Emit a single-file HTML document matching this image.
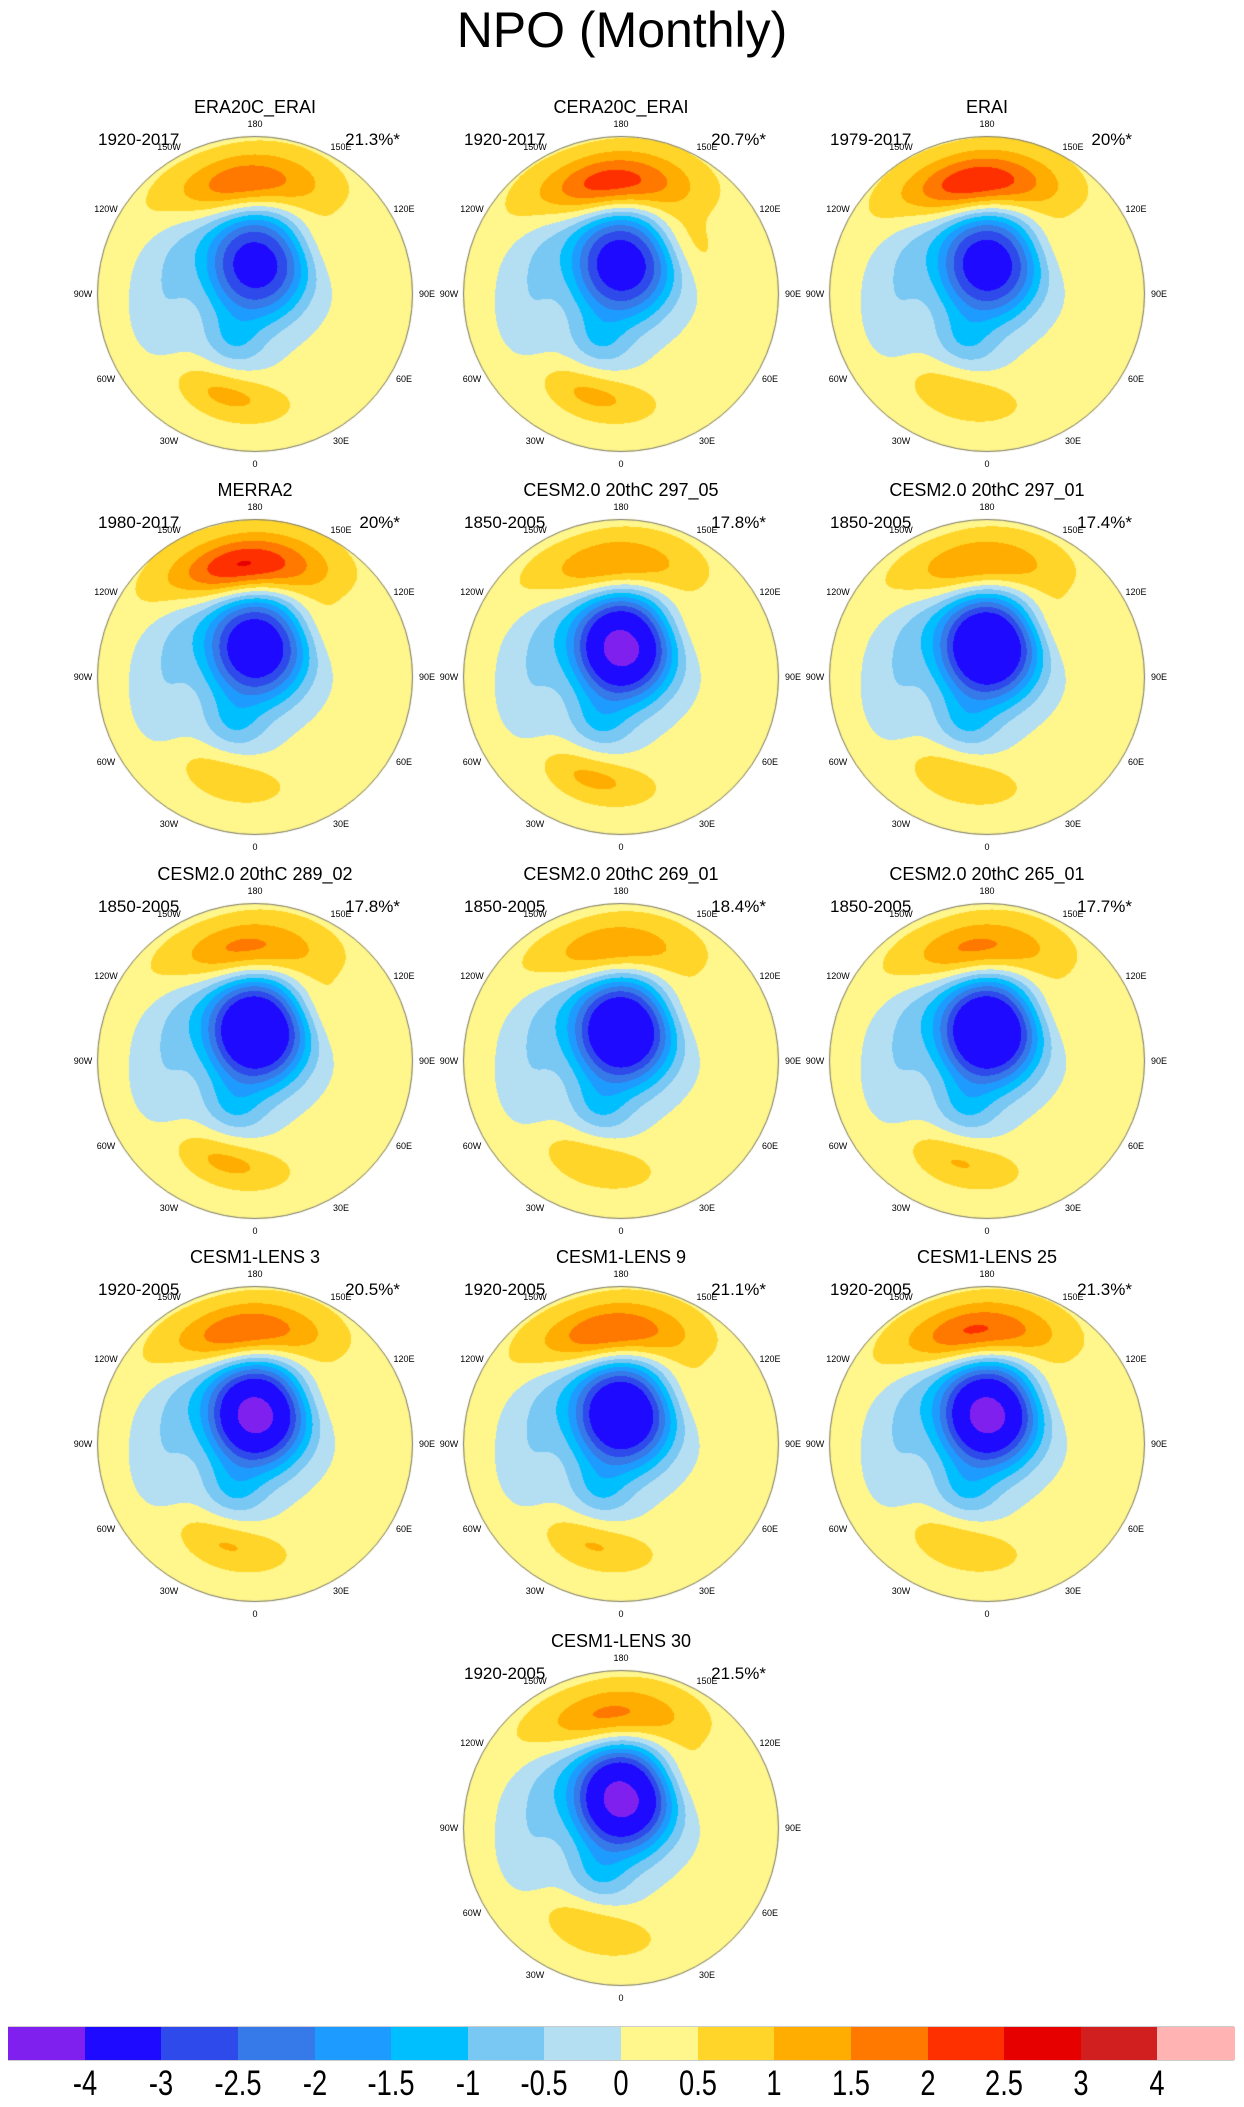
<!DOCTYPE html>
<html><head><meta charset="utf-8">
<style>
html,body{margin:0;padding:0;background:#fff;}
body{width:1244px;height:2107px;position:relative;overflow:hidden;font-family:"Liberation Sans",sans-serif;}
.t{position:absolute;white-space:nowrap;color:#000;}
canvas{position:absolute;}
</style></head>
<body>
<div class="t" style="left:0;width:1244px;text-align:center;top:0px;font-size:50px;line-height:60px;">NPO (Monthly)</div>
<div id="panels"></div>
<div id="cbar"></div>
<script>
// ---- data ----
const titles = ["ERA20C_ERAI","CERA20C_ERAI","ERAI","MERRA2","CESM2.0 20thC 297_05","CESM2.0 20thC 297_01","CESM2.0 20thC 289_02","CESM2.0 20thC 269_01","CESM2.0 20thC 265_01","CESM1-LENS 3","CESM1-LENS 9","CESM1-LENS 25","CESM1-LENS 30"];
const years = ["1920-2017","1920-2017","1979-2017","1980-2017","1850-2005","1850-2005","1850-2005","1850-2005","1850-2005","1920-2005","1920-2005","1920-2005","1920-2005"];
const percents = ["21.3%*","20.7%*","20%*","20%*","17.8%*","17.4%*","17.8%*","18.4%*","17.7%*","20.5%*","21.1%*","21.3%*","21.5%*"];
const pacificAmp = [2.2,2.6,2.8,2.9,1.9,1.9,2.0,1.8,2.0,2.4,2.4,2.5,2.0];
const arcticAmp = [-3.3,-3.4,-3.4,-3.6,-4.2,-4.1,-4.1,-4.0,-4.1,-4.2,-3.9,-4.2,-4.2];
const atlanticAmp = [1.0,1.0,0.85,0.75,1.0,0.85,1.0,0.85,0.9,0.9,0.9,0.85,0.85];
const asiaAmp = [0.7,0.9,0.65,0.75,0.75,0.9,0.9,0.8,0.8,0.7,0.8,0.7,0.9];
// blob locations: [lat, lon, latSigma, lonSigma, plateau] (degrees)
const pacificLoc = [38,-174,9,22,0];
const arcticLoc = [75,178,16,14,7];
const greenlandLoc = [64,-25,9,11,0];
const americaLoc = [47,-100,9,28,0];
const atlanticLoc = [40,-15,7,18,0];
const asiaLoc = [50,135,9,15,0];
const americaAmp = -0.6;
const greenlandAmp = -0.9;
const background = 0.15;
const levels = [-4,-3,-2.5,-2,-1.5,-1,-0.5,0,0.5,1,1.5,2,2.5,3,4];
const colors = ["#8020ee","#1e0aff","#2f4aea","#3679e8","#1e9bff","#00bfff","#78c8f3","#b4dff3","#fff68c","#ffd52a","#ffad00","#ff7800","#ff3000","#e60000","#d11f1f","#ffb3b3"];
const tickLabels = ["-4","-3","-2.5","-2","-1.5","-1","-0.5","0","0.5","1","1.5","2","2.5","3","4"];
const lonLabels = ["180","150E","120E","90E","60E","30E","0","30W","60W","90W","120W","150W"];

const colX = [255,621,987];
const rowY = [294,677,1061,1444,1828];
const R = 158;
const D2R = Math.PI/180;
const tanEdge = Math.tan(35*D2R);

function vec(lat,lon){const a=lat*D2R,b=lon*D2R;return [Math.cos(a)*Math.cos(b),Math.cos(a)*Math.sin(b),Math.sin(a)];}
function blob(p,loc,amp){
  const [blat,blon,sl,sw,pl]=loc;
  const b=vec(blat,blon);
  const la=blat*D2R, lo=blon*D2R;
  const e=[-Math.sin(lo),Math.cos(lo),0];
  const n=[-Math.sin(la)*Math.cos(lo),-Math.sin(la)*Math.sin(lo),Math.cos(la)];
  let d=p[0]*b[0]+p[1]*b[1]+p[2]*b[2];
  d=Math.max(-1,Math.min(1,d));
  const pe=p[0]*e[0]+p[1]*e[1]+p[2]*e[2];
  const pn=p[0]*n[0]+p[1]*n[1]+p[2]*n[2];
  const nr=Math.sqrt(pe*pe+pn*pn)||1e-9;
  let c=Math.acos(d)/D2R;
  c=Math.max(0,c-pl);
  const x=c*pe/nr, y=c*pn/nr;
  return amp*Math.exp(-0.5*((x/sw)**2+(y/sl)**2));
}
function colorIdx(v){let i=0;while(i<levels.length&&v>=levels[i])i++;return i;}
function hex(c){return [parseInt(c.substr(1,2),16),parseInt(c.substr(3,2),16),parseInt(c.substr(5,2),16)];}
const rgb=colors.map(hex);

const host=document.getElementById('panels');
titles.forEach((t,k)=>{
  const cx = k<12 ? colX[k%3] : colX[1];
  const cy = rowY[Math.floor(k/3)];
  const g=document.createElement('div');
  
  
  host.appendChild(g);
  const tt=document.createElement('div');
  tt.className='t';tt.textContent=t;
  tt.style.cssText=`left:${cx-200}px;width:400px;text-align:center;top:${cy-198}px;font-size:18px;line-height:22px;`;
  
  
  g.appendChild(tt);
  const yr=document.createElement('div');
  yr.className='t';yr.textContent=years[k];
  yr.style.cssText=`left:${cx-157}px;top:${cy-164}px;font-size:17px;line-height:20px;`;
  
  
  g.appendChild(yr);
  const pc=document.createElement('div');
  pc.className='t';pc.textContent=percents[k];
  pc.style.cssText=`left:${cx+45}px;width:100px;text-align:right;top:${cy-164}px;font-size:17px;line-height:20px;`;
  
  
  g.appendChild(pc);
  const S=2*R+2;
  const cv=document.createElement('canvas');
  cv.width=S;cv.height=S;
  cv.style.left=(cx-R-1)+'px';cv.style.top=(cy-R-1)+'px';
  
  
  g.appendChild(cv);
  const ctx=cv.getContext('2d');
  const img=ctx.createImageData(S,S);
  for(let j=0;j<S;j++){for(let i=0;i<S;i++){
    const dx=i-R-1+0.5, dy=j-R-1+0.5;
    const r=Math.sqrt(dx*dx+dy*dy)/R;
    if(r>1) continue;
    const colat=2*Math.atan(r*tanEdge)/D2R;
    const lat=90-colat;
    const lon=Math.atan2(dx,dy)/D2R;
    const p=vec(lat,lon);
    let v=background;
    v+=blob(p,pacificLoc,pacificAmp[k]);
    v+=blob(p,arcticLoc,arcticAmp[k]);
    v+=blob(p,greenlandLoc,greenlandAmp);
    v+=blob(p,americaLoc,americaAmp);
    v+=blob(p,atlanticLoc,atlanticAmp[k]);
    v+=blob(p,asiaLoc,asiaAmp[k]);
    const c=rgb[colorIdx(v)];
    const o=(j*S+i)*4;
    img.data[o]=c[0];img.data[o+1]=c[1];img.data[o+2]=c[2];img.data[o+3]=255;
  }}
  ctx.putImageData(img,0,0);
  ctx.strokeStyle='#777';ctx.lineWidth=1;
  ctx.beginPath();ctx.arc(R+1,R+1,R-0.5,0,Math.PI*2);ctx.stroke();
  lonLabels.forEach((L,m)=>{
    const ang=m*30*D2R;
    const lx=cx+172*Math.sin(ang), ly=cy-170*Math.cos(ang);
    const d=document.createElement('div');
    d.className='t';d.textContent=L;
    d.style.cssText=`left:${lx-20}px;width:40px;text-align:center;top:${ly-6}px;font-size:9px;line-height:12px;`;
    
    
    g.appendChild(d);
  });
});

const cb=document.getElementById('cbar');
const cbX0=8, cbX1=1234, cbTop=2027, cbH=33, cbW=(cbX1-cbX0)/colors.length;
const frame=document.createElement('div');
frame.style.cssText=`position:absolute;left:${cbX0}px;top:${cbTop-1}px;width:${cbX1-cbX0}px;height:${cbH+2}px;background:#ccc;`;


cb.appendChild(frame);
colors.forEach((c,i)=>{
  const b=document.createElement('div');
  b.style.cssText=`position:absolute;left:${cbX0+i*cbW}px;top:${cbTop}px;width:${cbW+0.5}px;height:${cbH}px;background:${c};`;
  
  
  cb.appendChild(b);
});
tickLabels.forEach((L,i)=>{
  const d=document.createElement('div');
  d.className='t';d.textContent=L;
  d.style.cssText=`left:${cbX0+(i+1)*cbW-40}px;width:80px;text-align:center;top:2064px;font-size:35px;line-height:40px;transform:scaleX(0.78);`;
  
  
  cb.appendChild(d);
});
</script>
</body></html>
